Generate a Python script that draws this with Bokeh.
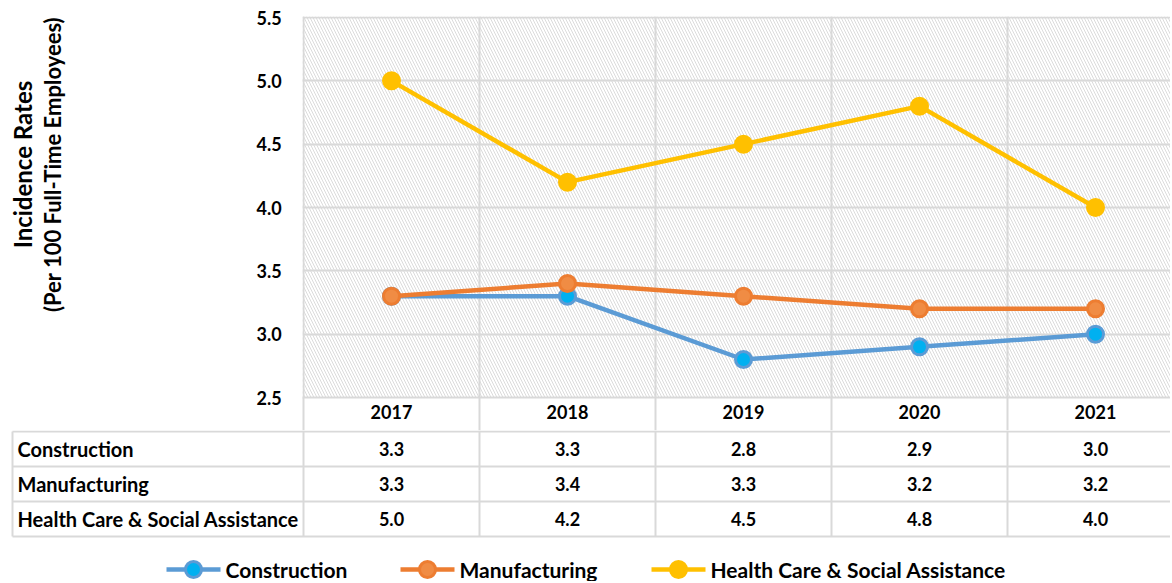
from bokeh.plotting import figure
from bokeh.layouts import column, row
from bokeh.models import Range1d, FixedTicker, PrintfTickFormatter, BoxAnnotation
from bokeh.core.properties import value
from bokeh.embed import file_html
from bokeh.resources import INLINE
import math

# ---------------- data ----------------
years = ["2017", "2018", "2019", "2020", "2021"]
construction = [3.3, 3.3, 2.8, 2.9, 3.0]
manufacturing = [3.3, 3.4, 3.3, 3.2, 3.2]
health_care = [5.0, 4.2, 4.5, 4.8, 4.0]
series_names = ["Construction", "Manufacturing", "Health Care & Social Assistance"]
y_ticks = [2.5, 3.0, 3.5, 4.0, 4.5, 5.0, 5.5]
y_title = ["Incidence Rates", "(Per 100 Full-Time Employees)"]

# ---------------- styling / layout ----------------
FONT = "Lato"
TOTAL_W = 1170
LEFT_W = 302          # width of the strip holding the y axis + title
CHART_W = TOTAL_W - LEFT_W
TOP = 16
HEADER_H = 33         # category (year) row under the chart
CHART_H = 397 + HEADER_H
TABLE_H = 151
CAT_PX = 176.0
GRID = "#d9d9d9"
line_colors = ["#5B9BD5", "#ED7D31", "#FFC000"]
fill_colors = ["#00B0F0", "#F08C44", "#FFC000"]
series_vals = [construction, manufacturing, health_care]

xs = list(range(len(years)))
bounds = [i - 0.5 for i in range(len(years) + 1)]
px_per_y = 380.0 / (y_ticks[-1] - y_ticks[0])
y_end = y_ticks[-1] + 1.0 / px_per_y
y_rng = (y_ticks[0], y_end)

def page_to_y(py):
    return y_ticks[-1] - (py - 17) / px_per_y

# ---------------- left strip: y axis + title ----------------
A = figure(width=LEFT_W, height=CHART_H, x_range=Range1d(0, 250),
           y_range=Range1d(*y_rng), output_backend="svg", toolbar_location=None,
           min_border_left=0, min_border_right=LEFT_W - 250, min_border_top=TOP,
           min_border_bottom=HEADER_H, x_axis_location=None, y_axis_location="right",
           frame_align=False)
A.outline_line_color = None
A.grid.visible = False
A.yaxis.ticker = FixedTicker(ticks=y_ticks)
A.yaxis.formatter = PrintfTickFormatter(format="%.1f")
A.yaxis.axis_line_color = None
A.yaxis.major_tick_line_color = None
A.yaxis.minor_tick_line_color = None
A.yaxis.major_tick_out = 0
A.yaxis.major_tick_in = 0
A.yaxis.minor_tick_out = 0
A.yaxis.minor_tick_in = 0
A.yaxis.major_label_standoff = 6
A.yaxis.major_label_text_font = FONT
A.yaxis.major_label_text_font_style = "bold"
A.yaxis.major_label_text_font_size = "18px"
A.yaxis.major_label_text_color = "black"
for txt, cx, fs in zip(y_title, [22, 52], ["24px", "22px"]):
    A.text(x=[cx], y=[page_to_y(164)], text=[txt], angle=math.pi / 2,
           text_align="center", text_baseline="middle",
           text_font=value(FONT), text_font_style="bold",
           text_font_size=fs, text_color="black")

# ---------------- chart ----------------
x0 = -0.5 - 1.0 / CAT_PX
B = figure(width=CHART_W, height=CHART_H, x_range=Range1d(x0, x0 + CHART_W / CAT_PX),
           y_range=Range1d(*y_rng), output_backend="svg", toolbar_location=None,
           min_border_left=0, min_border_right=0, min_border_top=TOP,
           min_border_bottom=HEADER_H, x_axis_location="below", y_axis_location=None,
           frame_align=False)
B.outline_line_color = None
B.add_layout(BoxAnnotation(fill_alpha=0, line_color=None, hatch_pattern="\\",
                           hatch_color="#d2d2d2", hatch_scale=6, hatch_weight=1,
                           hatch_alpha=0.8, level="image"))
B.ygrid.ticker = FixedTicker(ticks=y_ticks)
B.ygrid.grid_line_color = GRID
B.ygrid.grid_line_width = 2
B.xgrid.ticker = FixedTicker(ticks=bounds)
B.xgrid.grid_line_color = GRID
B.xgrid.grid_line_width = 2

# category axis = header row of the data table
xa = B.xaxis[0]
xa.ticker = FixedTicker(ticks=xs, minor_ticks=bounds)
xa.major_label_overrides = {i: y for i, y in zip(xs, years)}
xa.axis_line_color = GRID
xa.axis_line_width = 2
xa.major_tick_line_color = None
xa.major_tick_out = 0
xa.major_tick_in = 0
xa.minor_tick_line_color = GRID
xa.minor_tick_line_width = 2
xa.minor_tick_out = HEADER_H
xa.minor_tick_in = 0
xa.major_label_standoff = -26
xa.major_label_text_font = FONT
xa.major_label_text_font_style = "bold"
xa.major_label_text_font_size = "18px"
xa.major_label_text_color = "black"

for vals, lc, fc in zip(series_vals, line_colors, fill_colors):
    B.line(xs, vals, line_color=lc, line_width=4.5)
    B.scatter(xs, vals, size=16, fill_color=fc, line_color=lc, line_width=3)

# ---------------- data table rows + legend ----------------
c0 = x0 - LEFT_W / CAT_PX
C = figure(width=TOTAL_W, height=TABLE_H, x_range=Range1d(c0, c0 + TOTAL_W / CAT_PX),
           y_range=Range1d(TABLE_H, 0), output_backend="svg", toolbar_location=None,
           min_border=0, x_axis_location=None, y_axis_location=None,
           frame_align=False)
C.outline_line_color = None
C.grid.visible = False

def qx(px):  # page x -> table x
    return c0 + px / CAT_PX

ROW_H = 35
n_rows = len(series_names)
t_left = qx(12)
t_right = c0 + TOTAL_W / CAT_PX + 1

hy = [ROW_H * i + 1 for i in range(n_rows + 1)]
C.segment(x0=[t_left] * len(hy), y0=hy, x1=[t_right] * len(hy), y1=hy,
          line_color=GRID, line_width=2)
C.segment(x0=bounds, y0=[0] * len(bounds), x1=bounds, y1=[hy[-1]] * len(bounds),
          line_color=GRID, line_width=2)
C.segment(x0=[t_left], y0=[hy[0]], x1=[t_left], y1=[hy[-1]],
          line_color=GRID, line_width=2)

for r, (name, vals) in enumerate(zip(series_names, series_vals)):
    cy = hy[0] + ROW_H * (r + 0.5)
    C.text(x=[qx(17)], y=[cy], text=[name], text_align="left",
           text_baseline="middle", text_font=value(FONT), text_font_style="bold",
           text_font_size="20px", text_color="black")
    C.text(x=xs, y=[cy] * len(xs), text=["%.1f" % v for v in vals],
           text_align="center", text_baseline="middle", text_font=value(FONT),
           text_font_style="bold", text_font_size="18px", text_color="black")

LEG_Y = 139
leg_marker_px = [193, 427, 678]
for name, lc, fc, mpx in zip(series_names, line_colors, fill_colors, leg_marker_px):
    C.line([qx(mpx - 27), qx(mpx + 27)], [LEG_Y, LEG_Y], line_color=lc, line_width=4.5)
    C.scatter([qx(mpx)], [LEG_Y], size=16, fill_color=fc, line_color=lc, line_width=3)
    C.text(x=[qx(mpx + 32)], y=[LEG_Y], text=[name], text_align="left",
           text_baseline="middle", text_font=value(FONT), text_font_style="bold",
           text_font_size="21px", text_color="black")

layout = column(row(A, B, spacing=0), C, spacing=0)
open("out.html", "w").write(file_html(layout, INLINE))
